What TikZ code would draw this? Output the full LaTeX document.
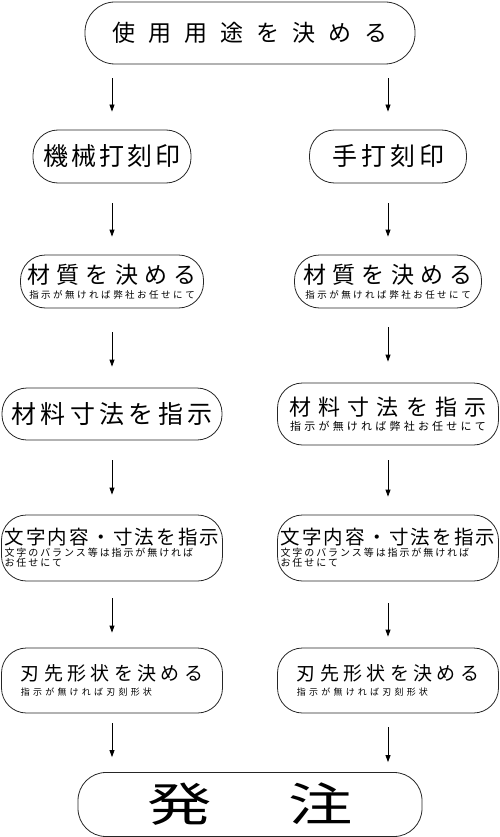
\documentclass[tikz,border=0pt]{standalone}
\usepackage{fontspec}
\usepackage{graphicx}
\setmainfont{Noto Sans CJK JP}
\usetikzlibrary{arrows.meta}
\makeatletter
\newcommand{\spaced}[2]{\def\sp@sep{}\@tfor\sp@ch:=#2\do{\sp@sep\sp@ch\def\sp@sep{\hspace{#1}}}}
\makeatother
\newcommand{\jp}[3]{{\fontsize{#1}{#1}\selectfont\mbox{\spaced{#2pt}{#3}}}}
\tikzset{
	flowbox/.style={draw=black!85, line width=0.8pt, rounded corners=25pt, inner sep=0pt, align=center, font=\fontsize{1}{1}\selectfont},
	flowarrow/.style={-{Triangle[length=7pt,width=5pt]}, line width=0.8pt},
}
\begin{document}
\begin{tikzpicture}[x=1pt,y=-1pt]
			\useasboundingbox (0,0) rectangle (500,837);
			\node[flowbox, minimum width=330, minimum height=62, rounded corners=30pt] (youto) at (250,33) {\jp{23}{13}{使用用途を決める}};
			\node[flowbox, minimum width=158, minimum height=53] (kikai) at (112,156.5) {\jp{25}{3}{機械打刻印}};
			\node[flowbox, minimum width=157, minimum height=53] (teuchi) at (388,156.5) {\jp{25}{4}{手打刻印}};
			\node[flowbox, minimum width=183, minimum height=53] (zaiL) at (112,281.5) {\jp{23}{6.3}{材質を決める}\\[4pt]\jp{9.5}{2.5}{指示が無ければ弊社お任せにて}};
			\node[flowbox, minimum width=187, minimum height=53] (zaiR) at (388,281.5) {\jp{23}{6.3}{材質を決める}\\[4pt]\jp{9.5}{2.5}{指示が無ければ弊社お任せにて}};
			\node[flowbox, minimum width=220, minimum height=52] (sunL) at (112,414) {\jp{25}{4.4}{材料寸法を指示}};
			\node[flowbox, minimum width=221, minimum height=62] (sunR) at (388,414) {\jp{22}{7.2}{材料寸法を指示}\\[3pt]\jp{11}{3.2}{指示が無ければ弊社お任せにて}};
			\node[flowbox, minimum width=221, minimum height=66, align=left] (mojiL) at (112,548) {\jp{19.5}{2.2}{文字内容・寸法を指示}\\[1pt]\jp{10}{1.9}{文字のバランス等は指示が無ければ}\\[0pt]\jp{10}{1.9}{お任せにて}};
			\node[flowbox, minimum width=221, minimum height=66, align=left] (mojiR) at (388,548) {\jp{19.5}{2.2}{文字内容・寸法を指示}\\[1pt]\jp{10}{1.9}{文字のバランス等は指示が無ければ}\\[0pt]\jp{10}{1.9}{お任せにて}};
			\node[flowbox, minimum width=221, minimum height=65, align=left] (haL) at (112,680.5) {\jp{19}{4.3}{刃先形状を決める}\\[4pt]\jp{9}{3.2}{指示が無ければ刃刻形状}};
			\node[flowbox, minimum width=221, minimum height=65, align=left] (haR) at (388,680.5) {\jp{19}{4.3}{刃先形状を決める}\\[4pt]\jp{9}{3.2}{指示が無ければ刃刻形状}};
			\node[flowbox, minimum width=344, minimum height=64, rounded corners=28pt] (hatchu) at (250,804.5) {{\fontsize{46}{46}\selectfont\scalebox{1.4}[1]{発}\hspace{77pt}\scalebox{1.4}[1]{注}}};
			\draw[flowarrow, shorten <=14pt, shorten >=18pt] (youto.south -| kikai.north) -- (kikai.north);
			\draw[flowarrow, shorten <=14pt, shorten >=18pt] (youto.south -| teuchi.north) -- (teuchi.north);
			\draw[flowarrow, shorten <=20pt, shorten >=18pt] (kikai) -- (zaiL);
			\draw[flowarrow, shorten <=20pt, shorten >=18pt] (teuchi) -- (zaiR);
			\draw[flowarrow, shorten <=24pt, shorten >=21pt] (zaiL) -- (sunL);
			\draw[flowarrow, shorten <=19pt, shorten >=21pt] (zaiR) -- (sunR);
			\draw[flowarrow, shorten <=20pt, shorten >=20pt] (sunL) -- (mojiL);
			\draw[flowarrow, shorten <=15pt, shorten >=18pt] (sunR) -- (mojiR);
			\draw[flowarrow, shorten <=17pt, shorten >=15pt] (mojiL) -- (haL);
			\draw[flowarrow, shorten <=22pt, shorten >=11pt] (mojiR) -- (haR);
			\draw[flowarrow, shorten <=10pt, shorten >=15pt] (haL.south) -- (haL.south |- hatchu.north);
			\draw[flowarrow, shorten <=14pt, shorten >=10pt] (haR.south) -- (haR.south |- hatchu.north);
\end{tikzpicture}
\end{document}
